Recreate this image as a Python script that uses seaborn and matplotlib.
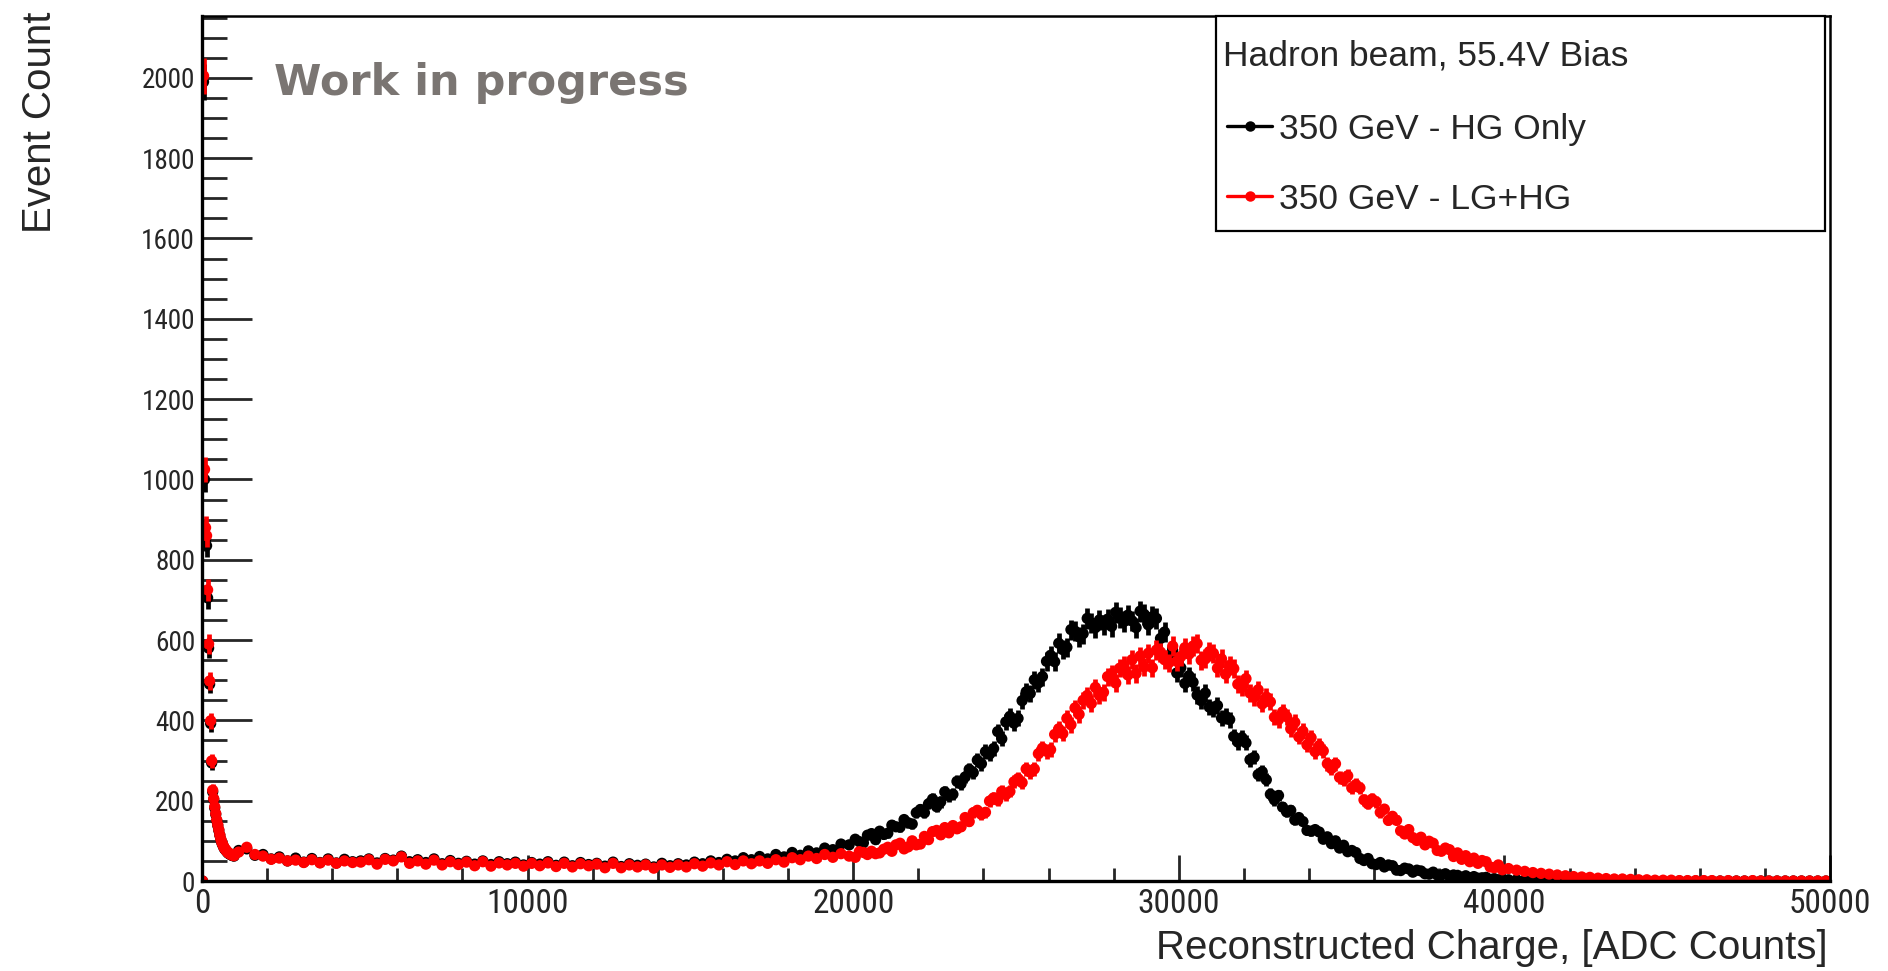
import os
import numpy as np
import pandas as pd
import matplotlib
matplotlib.use("Agg")
import matplotlib.pyplot as plt
import seaborn as sns
from matplotlib import font_manager
from matplotlib.font_manager import FontProperties
from matplotlib.ticker import MultipleLocator
from matplotlib.lines import Line2D
from matplotlib.patches import Rectangle

# ---------------- data ----------------
SERIES_NAMES = ["350 GeV - HG Only", "350 GeV - LG+HG"]
SERIES_COLORS = ["#000000", "#ff0000"]

# histogram segments: (first bin edge, bin width) in ADC counts
SPIKE_BINS = (0.0, 31.25)      # pedestal spike, 0 .. 1000
LOW_BINS = (1000.0, 250.0)     # 1000 .. 20000
PEAK_BINS = (20000.0, 125.0)   # 20000 .. 40000
TAIL_BINS = (40000.0, 250.0)   # 40000 .. 50000

SPIKE_HG = [0, 1990, 1000, 850, 835, 705, 580, 490, 392, 294, 222, 203, 182, 166, 150, 138,
            126, 114, 103, 95, 89, 83, 79, 76, 73, 70, 68, 67, 65, 64, 63, 62]
SPIKE_LGHG = [0, 2005, 1025, 880, 860, 725, 590, 498, 399, 299, 226, 205, 185, 168, 152, 140,
              128, 115, 104, 96, 90, 84, 80, 77, 74, 71, 69, 68, 66, 65, 64, 63]

LOW_HG = (
    [76, 80, 64, 66, 55, 60, 50, 57, 47, 56, 46, 55, 45, 54, 48, 50, 55, 45, 56, 52]
    + [62, 48, 53, 46, 55, 43, 51, 44, 49, 42, 50, 41, 48, 43, 47, 40, 46, 42, 48, 39]
    + [47, 38, 46, 41, 44, 37, 47, 36, 43, 39, 42, 35, 44, 38, 43, 40, 47, 43, 50, 46]
    + [54, 50, 58, 53, 61, 55, 66, 60, 71, 64, 75, 70, 82, 78, 92, 90]
)
LOW_LGHG = (
    [72, 84, 66, 62, 54, 57, 50, 52, 46, 53, 45, 52, 44, 50, 46, 47, 53, 42, 54, 50]
    + [60, 44, 50, 42, 52, 40, 48, 41, 47, 38, 48, 37, 45, 40, 44, 37, 44, 38, 45, 36]
    + [44, 35, 43, 38, 42, 33, 44, 33, 40, 35, 40, 32, 40, 34, 40, 35, 43, 37, 45, 40]
    + [48, 41, 50, 43, 50, 44, 53, 47, 58, 53, 62, 56, 66, 59, 68, 62]
)

PEAK_HG = (
    [104, 98, 95, 114, 118, 103, 124, 116]
    + [119, 139, 135, 134, 153, 145, 142, 170]
    + [178, 170, 192, 204, 185, 197, 222, 212]
    + [216, 248, 242, 259, 278, 270, 301, 292]
    + [322, 316, 330, 372, 354, 396, 410, 393]
    + [405, 449, 471, 467, 501, 493, 509, 547]
    + [562, 546, 592, 576, 582, 626, 622, 608]
    + [616, 654, 642, 631, 650, 638, 652, 634]
    + [669, 656, 646, 662, 648, 631, 672, 664]
    + [638, 658, 654, 604, 620, 561, 574, 518]
    + [531, 492, 511, 495, 463, 449, 468, 433]
    + [428, 437, 406, 410, 402, 360, 346, 357]
    + [344, 302, 308, 265, 272, 252, 216, 202]
    + [213, 184, 172, 176, 152, 158, 148, 126]
    + [124, 128, 122, 104, 110, 93, 100, 82]
    + [89, 73, 76, 71, 56, 51, 56, 43]
    + [41, 46, 35, 40, 38, 27, 26, 32]
    + [30, 22, 27, 25, 18, 17, 22, 15]
    + [15, 18, 12, 15, 14, 9, 13, 8]
    + [11, 7, 8, 9, 4, 6, 3, 5]
)
PEAK_LGHG = (
    [59, 73, 71, 66, 74, 68, 70, 79]
    + [84, 74, 90, 94, 80, 85, 100, 90]
    + [92, 111, 103, 123, 126, 115, 133, 120]
    + [138, 130, 135, 158, 148, 170, 176, 166]
    + [171, 199, 207, 201, 223, 215, 223, 247]
    + [255, 245, 279, 271, 279, 317, 331, 323]
    + [327, 365, 379, 367, 405, 389, 431, 415]
    + [450, 462, 442, 482, 462, 470, 509, 516]
    + [493, 530, 537, 513, 551, 517, 560, 533]
    + [567, 531, 575, 570, 551, 543, 585, 547]
    + [559, 581, 565, 585, 591, 550, 553, 571]
    + [567, 530, 553, 515, 537, 529, 490, 483]
    + [504, 468, 458, 476, 441, 458, 446, 408]
    + [402, 421, 409, 379, 395, 359, 373, 339]
    + [357, 322, 337, 324, 292, 280, 292, 258]
    + [252, 262, 232, 240, 232, 202, 192, 204]
    + [197, 171, 179, 151, 161, 151, 125, 117]
    + [128, 108, 101, 109, 90, 99, 94, 76]
    + [74, 82, 78, 61, 70, 54, 63, 48]
    + [57, 44, 51, 48, 35, 33, 40, 28]
)

TAIL_HG = (
    [3, 3, 2, 2, 2, 1, 1, 1, 1, 0, 1, 0, 0, 0, 0, 0, 0, 0, 0, 0]
    + [0, 0, 0, 0, 0, 0, 0, 0, 0, 0, 0, 0, 0, 0, 0, 0, 0, 0, 0, 0]
)
TAIL_LGHG = (
    [31, 27, 24, 21, 19, 17, 15, 13, 11, 10, 9, 7, 6, 5, 5, 4, 3, 3, 2, 2]
    + [2, 1, 1, 1, 1, 1, 0, 1, 0, 0, 1, 0, 0, 0, 0, 0, 0, 0, 0, 0]
)

X_LABEL = "Reconstructed Charge, [ADC Counts]"
Y_LABEL = "Event Count"
LEGEND_HEADER = "Hadron beam, 55.4V Bias"
WATERMARK = "Work in progress"


def build(segments, name):
    xs, xe, ys = [], [], []
    for (start, width), values in segments:
        n = len(values)
        xs += list(start + width * (np.arange(n) + 0.5))
        xe += [width / 2] * n
        ys += list(values)
    ys = np.array(ys, dtype=float)
    return pd.DataFrame({"x": xs, "xerr": xe, "y": ys, "yerr": np.sqrt(ys), "series": name})


df = pd.concat([
    build([(SPIKE_BINS, SPIKE_HG), (LOW_BINS, LOW_HG), (PEAK_BINS, PEAK_HG), (TAIL_BINS, TAIL_HG)],
          SERIES_NAMES[0]),
    build([(SPIKE_BINS, SPIKE_LGHG), (LOW_BINS, LOW_LGHG), (PEAK_BINS, PEAK_LGHG), (TAIL_BINS, TAIL_LGHG)],
          SERIES_NAMES[1]),
], ignore_index=True)

# ---------------- fonts ----------------
sns.set_style("ticks")
plt.rcParams["font.family"] = ["Liberation Sans", "DejaVu Sans"]

# look for a condensed sans face for the (tall, narrow) tick labels
PREFERRED = ["liberationsansnarrow-regular.ttf", "notosans-condensed.ttf",
             "notosans-condensedregular.ttf", "robotocondensed-regular.ttf",
             "opensans-condensedregular.ttf", "opensans_condensed-regular.ttf",
             "dejavusanscondensed.ttf"]
files = {os.path.basename(f.fname).lower(): f.fname for f in font_manager.fontManager.ttflist}
narrow_file = None
for cand in PREFERRED:
    if cand in files:
        narrow_file = files[cand]
        break

if narrow_file is not None:
    XT_SIZE, YT_SIZE = 24, 19.5
    xt_props = FontProperties(fname=narrow_file, size=XT_SIZE)
    yt_props = FontProperties(fname=narrow_file, size=YT_SIZE)
else:
    XT_SIZE, YT_SIZE = 21.5, 18
    xt_props = FontProperties(family="Liberation Sans", size=XT_SIZE)
    yt_props = FontProperties(family="Liberation Sans", size=YT_SIZE)

# ---------------- figure ----------------
W, H = 1888, 971
fig = plt.figure(figsize=(W / 100, H / 100), dpi=100)
ax_l, ax_r, ax_t, ax_b = 202, 1830, 15.6, 881
ax = fig.add_axes([ax_l / W, 1 - ax_b / H, (ax_r - ax_l) / W, (ax_b - ax_t) / H])

for i, (name, color) in enumerate(zip(SERIES_NAMES, SERIES_COLORS)):
    d = df[df["series"] == name]
    ax.errorbar(d["x"], d["y"], xerr=d["xerr"], yerr=d["yerr"], fmt="none",
                ecolor=color, elinewidth=3.4, capsize=0, zorder=2 + 2 * i)
    sns.scatterplot(data=d, x="x", y="y", color=color, s=66, marker="o", edgecolor="none",
                    linewidth=0, ax=ax, zorder=3 + 2 * i, legend=False)

X_MAX, Y_MAX = 50000, 2155
ax.set_xlim(0, X_MAX)
ax.set_ylim(0, Y_MAX)
ax.set_xlabel("")
ax.set_ylabel("")

xt = np.arange(0, X_MAX + 1, 10000)
yt = np.arange(0, 2001, 200)
ax.set_xticks(xt)
ax.set_xticklabels([str(v) for v in xt], fontproperties=xt_props)
ax.set_yticks(yt)
ax.set_yticklabels([str(v) for v in yt], fontproperties=yt_props)
ax.xaxis.set_minor_locator(MultipleLocator(2000))
ax.yaxis.set_minor_locator(MultipleLocator(50))

ax.tick_params(axis="x", which="major", direction="in", length=19, width=2.0, pad=5, top=False)
ax.tick_params(axis="x", which="minor", direction="in", length=9.5, width=2.0, top=False)
ax.tick_params(axis="y", which="major", direction="in", length=36, width=2.0, pad=5, right=False)
ax.tick_params(axis="y", which="minor", direction="in", length=18, width=2.0, right=False)

for side in ["left", "bottom"]:
    ax.spines[side].set_linewidth(2.4)
for side in ["top", "right"]:
    ax.spines[side].set_linewidth(1.8)
for sp in ax.spines.values():
    sp.set_color("black")
    sp.set_zorder(10)

# axis titles
fig.text(1828 / W, 1 - 959 / H, X_LABEL, ha="right", va="baseline", fontsize=29,
         family="Liberation Sans")
fig.text(40 / W, 1 - 12 / H, Y_LABEL, ha="center", va="top", rotation=90, fontsize=29,
         family="Liberation Sans")

# watermark
fig.text(274 / W, 1 - 95 / H, WATERMARK, ha="left", va="baseline", fontsize=31,
         fontweight="bold", color="#7a7572", family="DejaVu Sans")

# legend box
bx0, by0, bx1, by1 = 1216, 16, 1825, 231
fig.patches.append(Rectangle((bx0 / W, 1 - by1 / H), (bx1 - bx0) / W, (by1 - by0) / H,
                             transform=fig.transFigure, facecolor="white",
                             edgecolor="black", linewidth=1.6, zorder=20))
fig.text(1223 / W, 1 - 66 / H, LEGEND_HEADER, ha="left", va="baseline", fontsize=25.5,
         family="Liberation Sans", zorder=21)
for yc, name, color in zip([126, 196], SERIES_NAMES, SERIES_COLORS):
    fig.add_artist(Line2D([1227 / W, 1272 / W], [1 - yc / H, 1 - yc / H],
                          transform=fig.transFigure, color=color, linewidth=2.4, zorder=21))
    fig.add_artist(Line2D([1249.5 / W], [1 - yc / H], transform=fig.transFigure,
                          marker="o", markersize=6.5, color=color, linestyle="none", zorder=22))
    fig.text(1279 / W, 1 - (yc + 13) / H, name, ha="left", va="baseline", fontsize=25.5,
             family="Liberation Sans", zorder=21)

fig.savefig("out.png", dpi=100, facecolor="white")
